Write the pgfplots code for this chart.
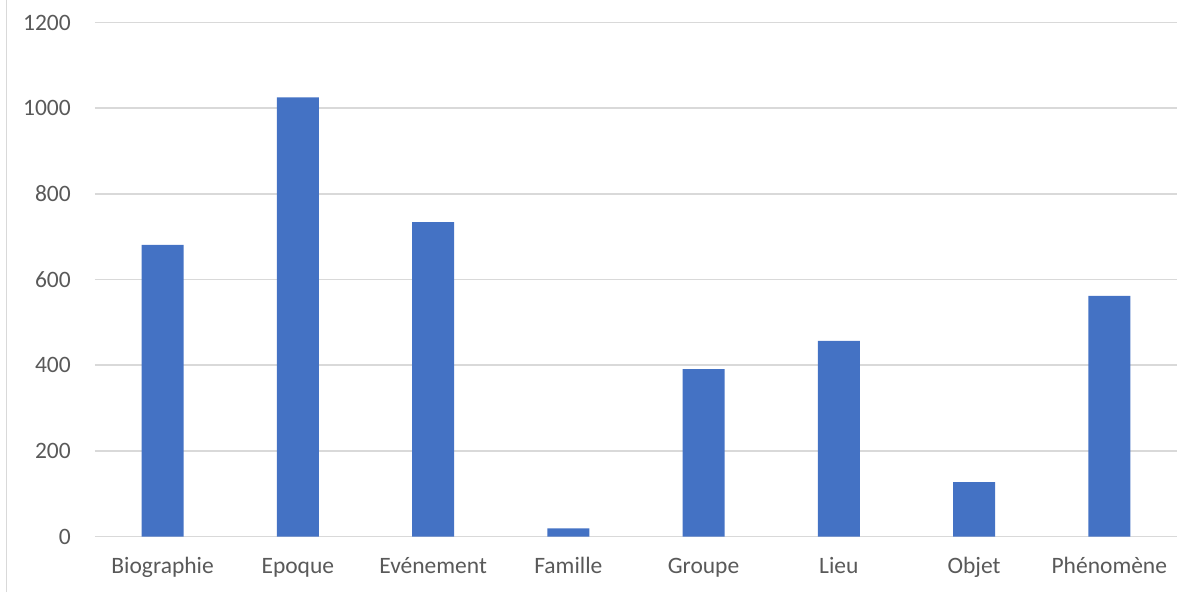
\documentclass[border=0pt]{standalone}
\usepackage{fontspec}
\setmainfont{Carlito}
\usepackage{pgfplots}
\pgfplotsset{compat=1.18}
\definecolor{barblue}{HTML}{4472C4}
\definecolor{gridgray}{HTML}{D9D9D9}
\definecolor{txtgray}{HTML}{595959}
\begin{document}
\begin{tikzpicture}[x=1pt,y=1pt]
\path[use as bounding box] (0,0) rectangle (1197,592);
\draw[gridgray, line width=1.5pt] (6.5,0) -- (6.5,592);
\begin{axis}[
  at={(95pt,55.5pt)}, anchor=south west, scale only axis,
  width=1082pt, height=514pt,
  xmin=-0.5, xmax=7.5, ymin=0, ymax=1200,
  ytick={0,200,...,1200},
  xtick={0,...,7},
  xticklabels={Biographie,Epoque,Evénement,Famille,Groupe,Lieu,Objet,Phénomène},
  axis line style={draw=none},
  tick style={draw=none},
  major tick length=0pt,
  ymajorgrids,
  grid style={gridgray, line width=1.5pt},
  /pgf/number format/assume math mode=true,
  /pgf/number format/1000 sep={},
  tick label style={font=\fontsize{23.5}{28}\selectfont, text=txtgray, inner sep=0pt},
  yticklabel style={anchor=east, xshift=-24pt},
  xticklabel style={anchor=base, yshift=-36.5pt},
  ybar, bar width=42pt,
]
\addplot[fill=barblue, draw=none] coordinates {
  (0,681) (1,1025) (2,734) (3,19) (4,391) (5,457) (6,127) (7,562)
};
\end{axis}
\end{tikzpicture}
\end{document}
